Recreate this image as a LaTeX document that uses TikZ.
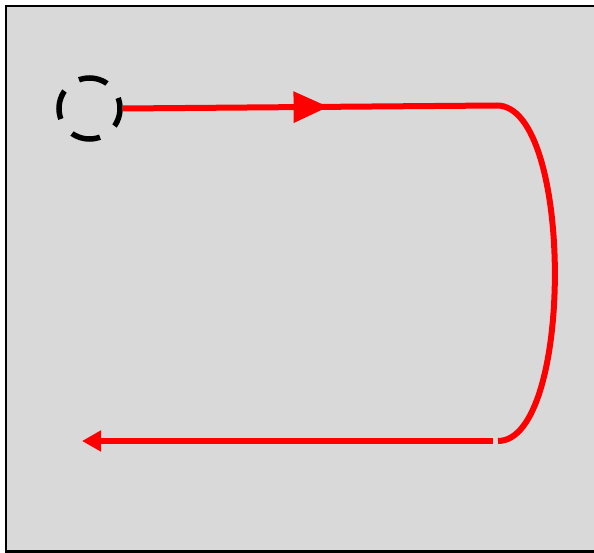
\documentclass[tikz,border=0pt]{standalone}
\usetikzlibrary{arrows.meta,decorations.markings}
\definecolor{bggray}{RGB}{217,217,217}
\begin{document}
\begin{tikzpicture}[x=1pt,y=-1pt,
  frame/.style={draw=black,fill=bggray,line width=2.5pt},
  startcircle/.style={circle,draw=black,line width=5.5pt,minimum size=61pt,inner sep=0pt,
    dash pattern=on 29.3pt off 18.6pt,dash phase=18.6pt},
  redline/.style={draw=red,line width=6pt},
  midarrow/.style={postaction={decorate,decoration={markings,
    mark=at position 0.55 with {\arrow[red]{Triangle[length=35pt,width=30pt]}}}}}]
\useasboundingbox (0,0) rectangle (594,553);
\draw[frame] (6.2,6.2) rectangle (620,551.5);
\node[startcircle] (start) at (89.5,108.5) {};
\coordinate (tr) at (497,105.5);
\coordinate (br) at (498,441);
\coordinate (bs) at (493,441);
\coordinate (fin) at (82,441);
\draw[redline,midarrow] (start.east) -- (tr);
\draw[redline] (tr) .. controls (574,105.5) and (574,441) .. (br);
\draw[redline,-{Triangle[length=19pt,width=20pt]}] (bs) -- (fin);
\end{tikzpicture}
\end{document}
